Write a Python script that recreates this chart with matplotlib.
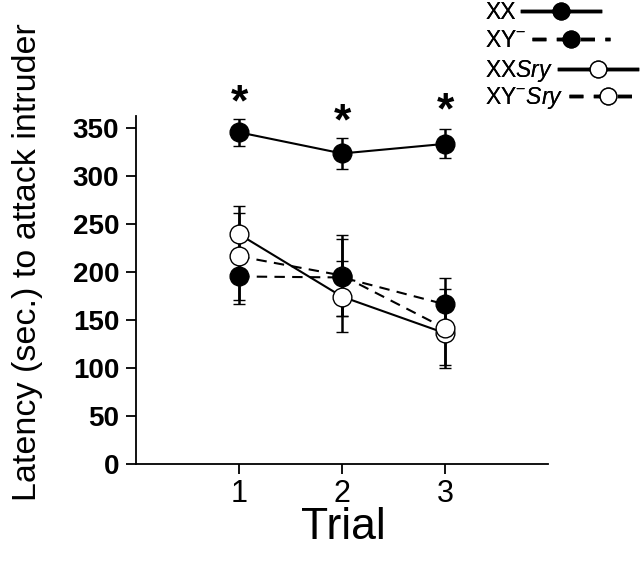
import matplotlib.pyplot as plt
from matplotlib.lines import Line2D

plt.rcParams['font.family'] = ['Liberation Sans', 'DejaVu Sans']
plt.rcParams['mathtext.fontset'] = 'custom'
plt.rcParams['mathtext.rm'] = 'Liberation Sans'
plt.rcParams['mathtext.it'] = 'Liberation Sans:italic'

trials = [1, 2, 3]

xx_mean = [345, 323, 333]
xx_err = [14, 16, 15]

xym_mean = [195, 194, 166]
xym_err = [29, 40, 27]

xxsry_mean = [239, 174, 136]
xxsry_err = [29, 37, 33]

xymsry_mean = [216, 196, 141]
xymsry_err = [45, 42, 41]

star_y = [375, 355, 366]

legend_labels = ['XX', r'XY$^{-}$', r'XX$\mathit{Sry}$', r'XY$^{-}$$\mathit{Sry}$']
legend_styles = ['-', (0, (4, 3)), '-', (0, (4, 3))]
legend_faces = ['black', 'black', 'white', 'white']


def plot_group(ax, mean, err, ls, face):
    ax.errorbar(trials, mean, yerr=err, color='black', linestyle=ls, linewidth=1.5,
                marker='o', markersize=13.5, markerfacecolor=face, markeredgecolor='black',
                markeredgewidth=1.0, elinewidth=1.8, capsize=4, capthick=1.8)


def main():
    fig = plt.figure(figsize=(6.4, 5.63), dpi=100)
    ax = fig.add_axes([0.2125, 0.176, 0.644, 0.618])

    dash = (0, (5, 3.5))
    plot_group(ax, xxsry_mean, xxsry_err, '-', 'white')
    plot_group(ax, xymsry_mean, xymsry_err, dash, 'white')
    plot_group(ax, xym_mean, xym_err, dash, 'black')
    plot_group(ax, xx_mean, xx_err, '-', 'black')

    for x, y in zip(trials, star_y):
        ax.text(x, y, '*', ha='center', va='center', fontsize=32, fontweight='bold')

    ax.set_xlim(0, 4)
    ax.set_ylim(0, 362)
    ax.set_xticks(trials)
    ax.set_yticks(range(0, 351, 50))
    ax.tick_params(axis='both', direction='out', length=7, width=1.3)
    ax.tick_params(axis='x', labelsize=22, pad=4)
    ax.tick_params(axis='y', labelsize=20, pad=5)
    for lab in ax.get_yticklabels():
        lab.set_fontweight('bold')
    ax.spines['top'].set_visible(False)
    ax.spines['right'].set_visible(False)
    ax.spines['left'].set_linewidth(1.3)
    ax.spines['bottom'].set_linewidth(1.3)

    ax.set_xlabel('Trial', fontsize=32)
    ax.xaxis.set_label_coords(0.502, -0.125)
    ax.set_ylabel('Latency (sec.) to attack intruder', fontsize=24.5)
    ax.yaxis.set_label_coords(-0.225, 0.58)

    # legend rows sit one under another, handle right after the text
    row_y = [1.003, 0.953, 0.901, 0.853]
    for lab, ls, face, y in zip(legend_labels, legend_styles, legend_faces, row_y):
        h = Line2D([], [], color='black', linestyle=ls, linewidth=2.5, marker='o',
                   markersize=12, markerfacecolor=face, markeredgecolor='black',
                   markeredgewidth=1.0)
        leg = fig.legend([h], [lab], loc='upper left', bbox_to_anchor=(0.755, y),
                         frameon=False, markerfirst=False, fontsize=16.5,
                         handlelength=3.4, handletextpad=0.25, borderpad=0.1,
                         borderaxespad=0)
        fig.add_artist(leg)

    fig.savefig('out.png', dpi=100)
    plt.close(fig)


if __name__ == '__main__':
    main()
